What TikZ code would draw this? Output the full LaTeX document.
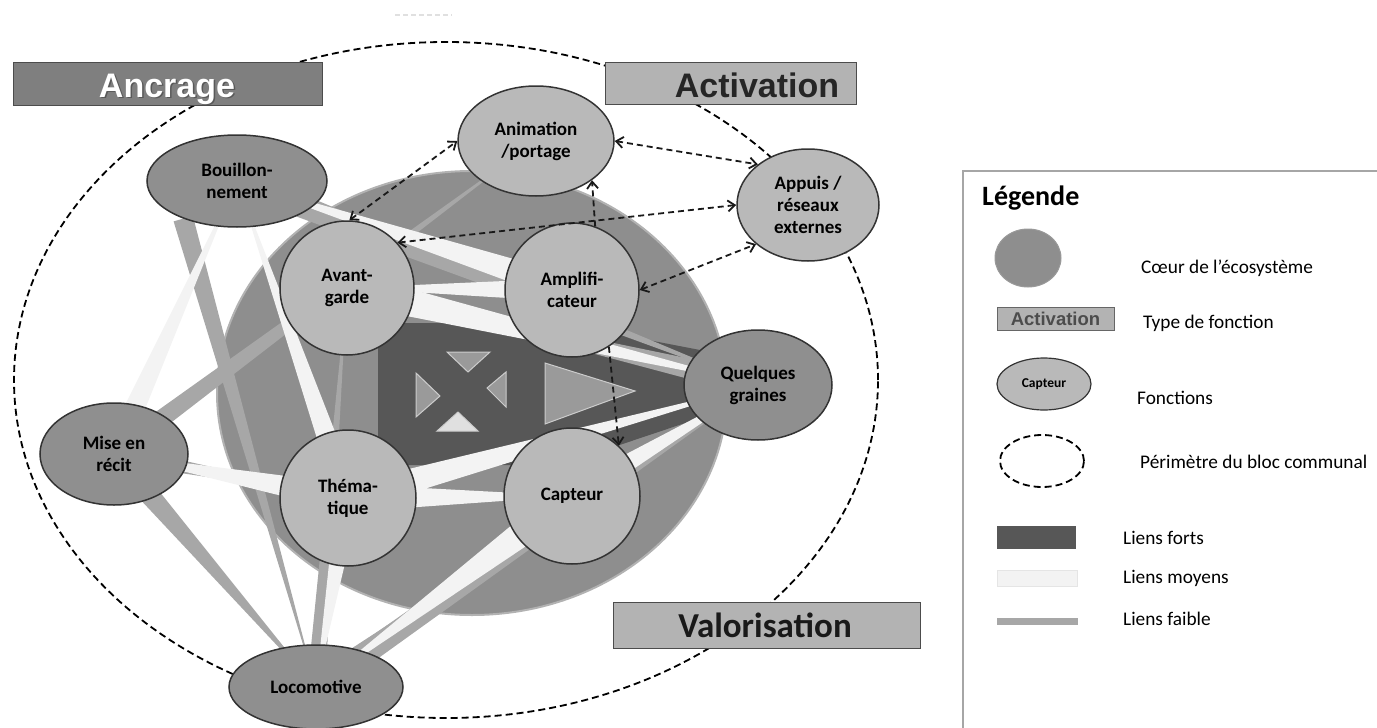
\documentclass[tikz,border=0pt]{standalone}
\usepackage{fontspec}
\setmainfont{Carlito}
\newfontfamily\arialf{Liberation Sans}
\usetikzlibrary{calc,shapes.geometric,arrows.meta}
\pgfdeclarelayer{core}
\pgfdeclarelayer{links}
\pgfsetlayers{core,links,main}
\definecolor{lightfn}{HTML}{B9B9B9}
\definecolor{darkfn}{HTML}{8F8F8F}
\definecolor{corec}{HTML}{8E8E8E}
\definecolor{forts}{HTML}{575757}
\definecolor{moyens}{HTML}{F3F3F3}
\definecolor{faible}{HTML}{A7A7A7}
\definecolor{ancrfill}{HTML}{7F7F7F}
\definecolor{actfill}{HTML}{B3B3B3}
\definecolor{trifill}{HTML}{9A9A9A}
\tikzset{
 fn/.style={ellipse, draw=black!80, line width=1.5pt, fill=lightfn, font=\bfseries\fontsize{19}{22}\selectfont, align=center, inner sep=0pt},
 fncirc/.style={fn, minimum width=134pt, minimum height=134pt},
 fndark/.style={fn, fill=darkfn},
 typebox/.style={draw=black!70, line width=1.2pt, inner sep=0pt, anchor=north west},
 typetext/.style={anchor=base, inner sep=0pt, font=\arialf\bfseries\fontsize{34}{36}\selectfont},
 dlink/.style={dash pattern=on 6pt off 4pt, line width=1.8pt, black!90},
 both/.style={dlink, {Straight Barb[length=7pt,width=11pt]}-{Straight Barb[length=7pt,width=11pt]}},
 one/.style={dlink, -{Straight Barb[length=7pt,width=11pt]}},
 perim/.style={dash pattern=on 7pt off 4pt, line width=1.8pt},
 legtext/.style={anchor=west, font=\fontsize{19.3}{21}\selectfont, inner sep=0pt},
 tri/.style={fill=trifill, draw=black!20, line width=1pt},
}
\newcommand\wband[4]{\fill[#4] ($(#1)!#3!90:(#2)$) -- ($(#1)!#3!-90:(#2)$) -- (#2) -- cycle;}
\begin{document}
\begin{tikzpicture}[x=1pt,y=-1pt]
\useasboundingbox (0,0) rectangle (1377,728);
% nodes
\node[fndark, minimum width=180pt, minimum height=92pt] (bou) at (237,181) {Bouillon-\\nement};
\node[fndark, minimum width=148pt, minimum height=102pt] (mise) at (114,454) {Mise en\\récit};
\node[fndark, minimum width=174pt, minimum height=84pt] (loco) at (316,687) {Locomotive};
\node[fndark, minimum width=148pt, minimum height=110pt] (quel) at (758,385) {Quelques\\graines};
\node[fn, minimum width=156pt, minimum height=110pt] (anim) at (536,141) {Animation\\/portage};
\node[fn, minimum width=142pt, minimum height=112pt] (appuis) at (808,205) {Appuis /\\réseaux\\externes};
\node[fncirc] (avant) at (347,288) {Avant-\\garde};
\node[fncirc] (ampli) at (572,290) {Amplifi-\\cateur};
\node[fncirc, minimum width=136pt, minimum height=136pt] (them) at (348,498) {Théma-\\tique};
\node[fncirc, minimum width=136pt, minimum height=136pt] (capt) at (572,496) {Capteur};
% core, perimeter, strong links
\begin{pgfonlayer}{core}
\draw[perim] (446,380) ellipse [x radius=432pt, y radius=338pt];
\draw[fill=corec, draw=black!30, line width=2pt] (472,393) ellipse [x radius=255pt, y radius=222pt];
\fill[forts] (378,323) -- (560,323) -- (700,350) -- (700,418) -- (560,465) -- (378,465) -- cycle;
\draw[tri] (447,352) -- (490,352) -- (468,372) -- cycle;
\draw[tri] (416,373) -- (416,417) -- (440,396) -- cycle;
\draw[tri] (506,372) -- (506,407) -- (487,388) -- cycle;
\draw[tri, fill=black!12] (437,431) -- (478,431) -- (458,412) -- cycle;
\draw[tri] (545,363) -- (545,424) -- (635,391) -- cycle;
\end{pgfonlayer}
% weak and medium links
\begin{pgfonlayer}{links}
\wband{bou.center}{quel.center}{13pt}{faible}
\wband{bou.215}{loco.center}{10pt}{faible}
\wband{mise.center}{loco.center}{12pt}{faible}
\wband{mise.center}{them.center}{9pt}{faible}
\wband{mise.center}{anim.center}{10pt}{faible}
\wband{loco.center}{quel.center}{13pt}{faible}
\wband{loco.center}{capt.center}{10pt}{faible}
\wband{loco.center}{avant.center}{9pt}{faible}
\wband{quel.center}{avant.center}{12pt}{faible}
\wband{ampli.center}{bou.center}{14pt}{moyens}
\wband{mise.center}{bou.center}{12pt}{moyens}
\wband{them.center}{bou.center}{12pt}{moyens}
\wband{them.center}{mise.center}{14pt}{moyens}
\wband{avant.center}{quel.center}{16pt}{moyens}
\wband{ampli.center}{avant.center}{12pt}{moyens}
\wband{them.center}{capt.center}{14pt}{moyens}
\wband{capt.center}{loco.center}{16pt}{moyens}
\wband{them.center}{loco.center}{12pt}{moyens}
\wband{them.center}{quel.center}{14pt}{moyens}
\wband{capt.center}{quel.center}{12pt}{moyens}
\end{pgfonlayer}
% dashed relations
\draw[both] (avant.88) -- (anim.west);
\draw[both] (anim.east) -- (appuis.141);
\draw[both] (avant.42) -- (appuis.west);
\draw[one] (ampli.70) -- (anim.-35);
\draw[both] (ampli.east) -- (appuis.217);
\draw[one] (ampli.-57) -- (capt.47);
% type boxes
\node[typebox, fill=ancrfill, minimum width=309pt, minimum height=43pt] (ancr) at (13,62) {};
\node[typetext, text=black!65] (ancrs) at (168.5,98.5) {Ancrage};
\node[typetext, text=white] (ancrt) at (167,97) {Ancrage};
\node[typebox, fill=actfill, minimum width=251pt, minimum height=42pt] (act) at (605,62) {};
\node[typetext, text=black!85] (actt) at (757,97) {Activation};
\node[typebox, fill=actfill, minimum width=307pt, minimum height=46pt] (valo) at (613,602) {};
\node[anchor=base, inner sep=0pt, font=\bfseries\fontsize{35}{37}\selectfont, text=black!90] (valot) at (765,637) {Valorisation};
\draw[black!12, dash pattern=on 5pt off 3pt, line width=1.5pt] (395,15) -- (452,15);
% legend
\draw[draw=black!35, line width=1.5pt] (963,171) rectangle (1390,740);
\node[anchor=base west, inner sep=0pt, font=\bfseries\fontsize{28}{30}\selectfont] (legt) at (982,205) {Légende};
\node[ellipse, fill=corec, draw=black!40, line width=1pt, minimum width=66pt, minimum height=58pt] (legcore) at (1028,258) {};
\node[legtext] (legcoret) at (1141,268) {Cœur de l’écosystème};
\node[draw=black!60, line width=1pt, fill=actfill, minimum width=117pt, minimum height=23pt, inner sep=0pt, font=\arialf\bfseries\fontsize{18.5}{20}\selectfont, text=black!70] (legact) at (1055.5,318.5) {Activation};
\node[legtext] (legactt) at (1143,323) {Type de fonction};
\node[fn, line width=1.2pt, minimum width=94pt, minimum height=52pt, font=\bfseries\fontsize{13.5}{15}\selectfont] (legfn) at (1044,384) {Capteur};
\node[legtext] (legfnt) at (1137,398) {Fonctions};
\node[ellipse, draw, perim, minimum width=84pt, minimum height=52pt] (legper) at (1042,461) {};
\node[legtext] (legpert) at (1140,462) {Périmètre du bloc communal};
\node[fill=forts, minimum width=79pt, minimum height=23pt, inner sep=0pt] (legforts) at (1036.5,537.5) {};
\node[legtext] (legfortst) at (1123,538) {Liens forts};
\node[fill=moyens, draw=black!10, minimum width=80pt, minimum height=16pt, inner sep=0pt] (legmoy) at (1037,578) {};
\node[legtext] (legmoyt) at (1123,578) {Liens moyens};
\node[fill=faible, minimum width=81pt, minimum height=7pt, inner sep=0pt] (legfai) at (1037.5,621.5) {};
\node[legtext] (legfait) at (1123,619) {Liens faible};
\end{tikzpicture}
\end{document}
